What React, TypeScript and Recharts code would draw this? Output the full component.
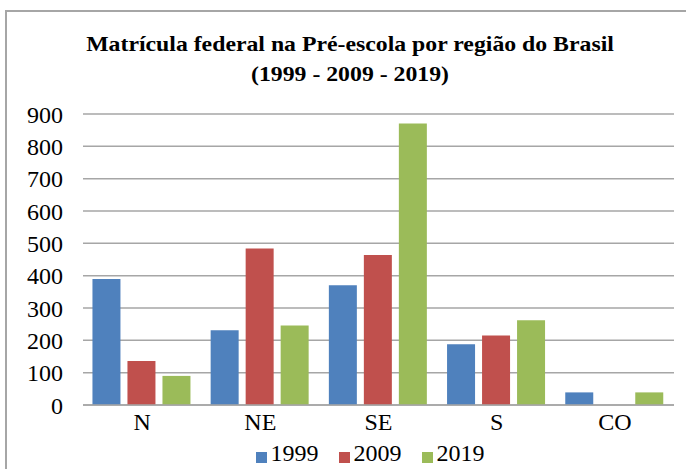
import { FC, JSX } from "react";
import {
  Bar,
  BarChart,
  CartesianGrid,
  Legend,
  XAxis,
  YAxis,
} from "recharts";

// Regions of Brazil
const regions = ["N", "NE", "SE", "S", "CO"];

// Federal enrolment in pre-school, per year
const values1999 = [390, 231, 370, 188, 39];
const values2009 = [136, 484, 464, 215, 0];
const values2019 = [90, 246, 871, 262, 39];

const yTicks = [0, 100, 200, 300, 400, 500, 600, 700, 800, 900];

const data = regions.map((name, i) => ({
  name,
  "1999": values1999[i],
  "2009": values2009[i],
  "2019": values2019[i],
}));

const font = "'Liberation Serif', 'Times New Roman', serif";

const App: FC = (): JSX.Element => {
  return (
    <div
      style={{
        position: "absolute",
        left: 0,
        top: 0,
        width: 686,
        height: 469,
        overflow: "hidden",
        background: "#fff",
        fontFamily: font,
      }}
    >
      {/* outer frame */}
      <div
        style={{
          position: "absolute",
          left: 5,
          top: 10,
          width: 720,
          height: 500,
          borderLeft: "2px solid #a6a6a6",
          borderTop: "2px solid #a6a6a6",
        }}
      />
      <div
        style={{
          position: "absolute",
          top: 29,
          left: 0,
          width: 700,
          textAlign: "center",
          fontWeight: "bold",
          fontSize: 22,
          lineHeight: "30px",
          color: "#000",
          transform: "scaleX(1.08)",
        }}
      >
        Matrícula federal na Pré-escola por região do Brasil
        <br />
        (1999 - 2009 - 2019)
      </div>
      <BarChart
        width={686}
        height={469}
        data={data}
        margin={{ top: 114, right: 12, bottom: 7, left: 0 }}
        barCategoryGap="8%"
        barGap={7}
      >
        <CartesianGrid vertical={false} stroke="#a6a6a6" strokeWidth={1.5} />
        <XAxis
          dataKey="name"
          tickLine={false}
          axisLine={{ stroke: "#a6a6a6", strokeWidth: 1.5 }}
          tick={{ fill: "#000", fontSize: 24, fontFamily: font }}
          height={30}
        />
        <YAxis
          width={83}
          domain={[0, 900]}
          ticks={yTicks}
          interval={0}
          tickLine={false}
          axisLine={false}
          tickMargin={14}
          tick={{ fill: "#000", fontSize: 24, fontFamily: font }}
        />
        <Legend
          iconType="square"
          iconSize={11}
          wrapperStyle={{ top: 440, left: 50, width: 660 }}
          formatter={(value) => (
            <span
              style={{
                color: "#000",
                fontSize: 24,
                fontFamily: font,
                marginRight: 10,
              }}
            >
              {value}
            </span>
          )}
        />
        <Bar dataKey="1999" fill="#4F81BD" isAnimationActive={false} />
        <Bar dataKey="2009" fill="#C0504D" isAnimationActive={false} />
        <Bar dataKey="2019" fill="#9BBB59" isAnimationActive={false} />
      </BarChart>
    </div>
  );
};

export default App;
